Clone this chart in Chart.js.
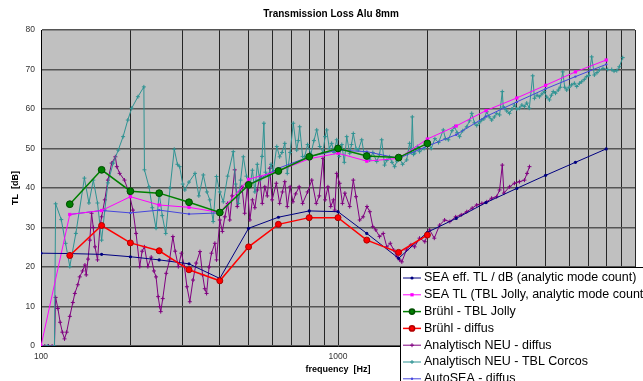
<!DOCTYPE html>
<html>
<head>
<meta charset="utf-8">
<script src="https://cdn.jsdelivr.net/npm/chart.js@4.4.1/dist/chart.umd.min.js"></script>
<style>
  html, body { margin: 0; padding: 0; background: #fff; }
  #wrap { width: 643px; height: 381px; }
</style>
</head>
<body>
<div id="wrap"><canvas id="chart" width="643" height="381"></canvas></div>
<script>
const TITLE = 'Transmission Loss Alu 8mm';
const X_TITLE = 'frequency  [Hz]';
const Y_TITLE = 'TL  [dB]';

// x grid lines (log decades 100..10000) and the labelled ones
const xGridFreq = [100, 200, 300, 400, 500, 600, 700, 800, 900,
  1000, 2000, 3000, 4000, 5000, 6000, 7000, 8000, 9000, 10000];
const xTickLabels = [100, 1000];

// third-octave bands
const seaFreq = [100, 125, 160, 200, 250, 315, 400, 500, 630, 800, 1000,
  1250, 1600, 2000, 2500, 3150, 4000, 5000, 6300, 8000];
const bruehlFreq = [125, 160, 200, 250, 315, 400, 500, 630, 800, 1000, 1250, 1600, 2000];
const autoFreq = [125, 160, 200, 250, 315, 400, 500, 630, 800, 1000,
  1250, 1600, 2000, 2500, 3150, 4000, 5000, 6300, 8000];

const seaEffTL = [23.5, 23.4, 23.2, 22.6, 21.8, 20.8, 17.1, 29.8, 32.6, 34.2, 34.0,
  28.5, 22.2, 28.8, 32.3, 36.3, 39.9, 43.2, 46.5, 49.9];
const seaJollyTL = [0, 33.3, 34.3, 37.8, 35.7, 35.1, 33.8, 42.2, 44.3, 47.4, 48.8,
  46.8, 47.5, 52.4, 55.7, 59.6, 62.8, 66.0, 69.4, 72.4];
const bruehlJollyTL = [35.9, 44.6, 39.2, 38.7, 36.4, 33.8, 40.8, 44.3, 47.9, 50.0, 48.1, 47.7, 51.3];
const bruehlDiffTL = [22.9, 30.5, 26.1, 24.1, 19.3, 16.5, 25.1, 30.8, 32.5, 32.5, 26.8, 23.7, 28.1];
const autoSeaTL = [33.3, 34.3, 33.7, 34.4, 33.4, 33.7, 40.8, 45.0, 47.9, 49.6,
  49.2, 47.5, 50.6, 53.5, 58.1, 61.8, 65.1, 68.2, 71.3];

// narrow-band curves [frequency, TL]
const analytDiffus = [
  [100,0],[103,0],[106,0],[109,0],[111,0],[112,12.3],[114,9.5],[116,6],[118,3.5],[120,1.8],
  [122,3.5],[125,7.5],[128,11],[130,13.3],[133,15.5],[135,17.5],[138,19],[140.6,20.5],[142,18],
  [144,22],[146,26.8],[148,33.6],[150,30],[152,25.1],[155,21.8],[158,30.2],[160,32.7],[164,37],
  [168,42],[173,46.3],[178,47.9],[180,45.4],[184,43.7],[191,42],[198,38.7],[204,34.4],[209,28.5],
  [215,20.1],[219,24],[223,25.1],[229,20.1],[235,22.5],[240,19],[244,17.5],[248,12.5],[251,10],
  [253,8.7],[257,12],[264,18.4],[271,21.8],[278,27.7],[283,24],[290,20.1],[297,23.5],[304,20.1],
  [310,15],[317,11.2],[325,16.7],[333,21],[343,23.9],[350,18],[356,14.5],[361,13.3],[368,20],
  [375,23.5],[385,26],[390,21.8],[400,31.9],[408,29],[416,32.7],[425,36.1],[432,31.9],[440,38],
  [449,44.6],[458,35.3],[467,39],[475,40.3],[485,33.6],[495,40.3],[505,31.9],[515,37],[525,35],
  [535,39.5],[545,42.9],[556,36.1],[567,40.3],[578,38],[589,45],[600,37],[620,41.2],[636,36.1],
  [650,39],[662,41.6],[675,35.3],[690,40.3],[705,36.5],[720,38.5],[740,40.3],[760,36.1],[790,39],
  [816,42],[845,36.1],[865,38],[890,47.5],[905,37],[925,40.3],[945,35.3],[965,37],[975,34.4],
  [990,43.7],[1013,41.2],[1035,36.1],[1055,38.7],[1095,35.3],[1126,42],[1150,37.8],[1183,31.9],
  [1215,32.7],[1252,35.3],[1280,34],[1310,30.2],[1340,29.4],[1380,27.7],[1420,28.5],[1460,25.1],
  [1500,26],[1540,24.3],[1580,22.6],[1612,21.8],[1640,21.3],[1700,24.3],[1760,25.6],[1811,25.1],
  [1882,27.3],[1960,26.4],[2034,29.4],[2110,27.3],[2198,30.6],[2285,31.9],[2380,31.5],[2490,32.7],
  [2600,33.2],[2713,34],[2830,34.9],[2931,35.7],[3050,36.1],[3168,36.5],[3290,37.4],[3421,37.8],
  [3500,39.5],[3574,45.8],[3620,38.7],[3779,40.3],[3928,41.2],[4083,41.6],[4244,42],[4330,43.7],
  [4412,45.4]
];
const analytCorcos = [
  [100,0],[105,0],[111,0],[112,36],[117,32],[121,26],[125,20.1],[131,28.5],[140,42.5],[145,36.2],
  [150,42],[155,36.2],[160,26.8],[164,34.4],[168,41.3],[175,46.3],[182,49.6],[189,53],[196,57.2],
  [202,60.2],[212,63.1],[222,65.6],[223,44.6],[231,40.3],[237,35],[244,29.8],[250,38.7],[256,33],
  [263,28.5],[272,40],[281,49.8],[288,46],[293,45.4],[300,41],[305,39.5],[315,41.5],[330,43.7],
  [340,38],[352,43.3],[362,39],[370,37],[380,31.5],[390,42.9],[400,39],[411,36.5],[425,43],
  [444,49.2],[452,41],[462,36.1],[470,42],[480,47.9],[492,43],[505,40.3],[515,44.5],[525,39],
  [535,46],[545,42],[555,48],[563,56.4],[570,44],[583,42.9],[595,46],[605,44],[622,50.5],
  [636,47.9],[648,49],[662,51.3],[675,43.7],[690,49],[707,56.4],[726,49.6],[735,52],[743,55.5],
  [760,48],[772,47.9],[790,51],[810,48.5],[830,52],[848,54.7],[868,50.5],[890,49],[905,53],
  [916,54.7],[935,50],[952,51.3],[970,49],[990,52.2],[1010,48],[1030,51],[1050,46.5],[1070,53],
  [1095,48.8],[1110,51],[1126,53.8],[1150,50],[1170,49.6],[1202,52.2],[1229,47.9],[1250,48.5],
  [1278,47.1],[1310,49],[1350,46.7],[1380,48.5],[1403,52.2],[1435,45.8],[1460,47],[1492,47.9],
  [1520,46.5],[1551,45.4],[1580,46.8],[1612,47.5],[1650,46],[1703,47.1],[1742,51.3],[1765,49],
  [1779,58],[1795,48.5],[1811,48.8],[1850,50.5],[1882,49.2],[1950,50],[2014,51.3],[2060,50],
  [2120,52.5],[2180,51.5],[2262,54.7],[2300,52.5],[2352,52.2],[2420,54.5],[2468,55.5],[2520,54],
  [2566,53],[2630,54.5],[2713,55.5],[2772,57],[2820,58.9],[2880,56.5],[2931,55.8],[2990,56.5],
  [3047,57.2],[3100,57.5],[3168,59.3],[3230,58],[3292,57.2],[3360,58],[3421,58.9],[3500,58.5],
  [3574,64.4],[3600,60.5],[3636,60.2],[3700,59.5],[3779,58.9],[3850,60],[3928,61],[4000,60],
  [4083,60.2],[4160,61],[4244,60.6],[4320,61.5],[4407,60.2],[4525,68.4],[4586,62.7],[4680,63.5],
  [4767,63.1],[4860,63.8],[4955,64.4],[5050,63],[5151,62.3],[5230,63.5],[5307,64.4],[5400,64],
  [5517,64.8],[5600,65.5],[5710,69.4],[5800,65.5],[5890,64.8],[6000,65.5],[6120,66.1],[6250,66.5],
  [6364,65.7],[6500,66.5],[6613,66.9],[6750,67.5],[6876,68.2],[7000,68.5],[7148,73.2],[7297,68.6],
  [7450,69.2],[7585,69.9],[7800,70.3],[8092,70],[8350,70],[8500,69.6],[8681,69.7],[8856,70.7],
  [9093,73]
];

const FONT = '"Liberation Sans", Arial, sans-serif';

const zip = (xs, ys) => xs.map((x, i) => ({ x, y: ys[i] }));
const pairs = arr => arr.map(([x, y]) => ({ x, y }));

const datasets = [
  {
    label: 'SEA eff. TL / dB (analytic mode count)',
    data: zip(seaFreq, seaEffTL),
    borderColor: '#000080', backgroundColor: '#000080', borderWidth: 1,
    pointStyle: 'circle', pointRadius: 1.6, pointBorderWidth: 0, order: 3
  },
  {
    label: 'SEA TL (TBL Jolly, analytic mode count)',
    data: zip(seaFreq, seaJollyTL),
    borderColor: '#ff00ff', backgroundColor: '#ff00ff', borderWidth: 1,
    pointStyle: 'rect', pointRadius: 2.3, pointBorderWidth: 0, order: 3
  },
  {
    label: 'Brühl - TBL Jolly',
    data: zip(bruehlFreq, bruehlJollyTL),
    borderColor: '#008000', backgroundColor: '#008000', borderWidth: 1.5,
    pointStyle: 'circle', pointRadius: 3.4, pointBorderWidth: 1, pointBorderColor: '#004d00', order: 1
  },
  {
    label: 'Brühl - diffus',
    data: zip(bruehlFreq, bruehlDiffTL),
    borderColor: '#ff0000', backgroundColor: '#ff0000', borderWidth: 1.5,
    pointStyle: 'circle', pointRadius: 3, pointBorderWidth: 1, pointBorderColor: '#b00000', order: 1
  },
  {
    label: 'Analytisch NEU - diffus',
    data: pairs(analytDiffus),
    borderColor: '#800080', backgroundColor: '#800080', borderWidth: 1,
    pointStyle: 'cross', pointRadius: 2, pointBorderWidth: 1, order: 6
  },
  {
    label: 'Analytisch NEU - TBL Corcos',
    data: pairs(analytCorcos),
    borderColor: '#2f9393', backgroundColor: '#2f9393', borderWidth: 1,
    pointStyle: 'cross', pointRadius: 2, pointBorderWidth: 1, order: 5
  },
  {
    label: 'AutoSEA - diffus',
    data: zip(autoFreq, autoSeaTL),
    borderColor: '#4646dc', backgroundColor: '#4646dc', borderWidth: 1,
    pointStyle: 'circle', pointRadius: 1.2, pointBorderWidth: 0, order: 4
  }
];

const framePlugin = {
  id: 'frame',
  beforeDraw(chart) {
    const { ctx, chartArea: a } = chart;
    ctx.save();
    ctx.fillStyle = '#fff';
    ctx.fillRect(0, 0, chart.width, chart.height);
    ctx.fillStyle = '#c0c0c0';
    ctx.fillRect(a.left, a.top, a.right - a.left, a.bottom - a.top);
    ctx.restore();
  },
  afterDraw(chart) {
    const ctx = chart.ctx;
    ctx.save();
    ctx.fillStyle = '#000';
    ctx.textAlign = 'center';
    ctx.textBaseline = 'middle';
    ctx.font = 'bold 10px ' + FONT;
    ctx.fillText(TITLE, 331, 14);
    ctx.font = 'bold 9px ' + FONT;
    ctx.fillText(X_TITLE, 338, 370);
    ctx.save();
    ctx.translate(16, 188);
    ctx.rotate(-Math.PI / 2);
    ctx.fillText(Y_TITLE, 0, 0);
    ctx.restore();

    // legend box, cut by the canvas edge like the original
    ctx.fillStyle = '#fff';
    ctx.fillRect(400, 267, 260, 130);
    ctx.strokeStyle = '#000';
    ctx.lineWidth = 1;
    ctx.strokeRect(400.5, 267.5, 260, 130);
    ctx.textAlign = 'left';
    ctx.font = '12.5px ' + FONT;
    chart.data.datasets.forEach((ds, i) => {
      const y = 278 + 16.8 * i;
      ctx.strokeStyle = ds.borderColor;
      ctx.lineWidth = ds.borderWidth;
      ctx.beginPath();
      ctx.moveTo(403, y);
      ctx.lineTo(421, y);
      ctx.stroke();
      ctx.fillStyle = ds.backgroundColor;
      ctx.strokeStyle = ds.pointBorderColor || ds.borderColor;
      Chart.helpers.drawPoint(ctx, {
        pointStyle: ds.pointStyle,
        radius: Math.min(ds.pointRadius, 2.6),
        rotation: 0,
        borderWidth: ds.pointBorderWidth
      }, 412, y);
      ctx.fillStyle = '#000';
      ctx.fillText(ds.label, 424, y);
    });
    ctx.restore();
  }
};

new Chart(document.getElementById('chart'), {
  type: 'line',
  data: { datasets },
  options: {
    responsive: false,
    animation: false,
    layout: { padding: { top: 30, right: 8, left: 0, bottom: 0 } },
    elements: { line: { tension: 0 } },
    plugins: { legend: { display: false }, tooltip: { enabled: false }, title: { display: false } },
    scales: {
      x: {
        type: 'logarithmic',
        min: 100,
        max: 10000,
        afterBuildTicks: s => { s.ticks = xGridFreq.map(v => ({ value: v })); },
        afterFit: s => { s.height = 35; },
        grid: { color: '#262626', lineWidth: 1, drawTicks: false },
        border: { color: '#000' },
        ticks: {
          autoSkip: false, maxRotation: 0, padding: 6, color: '#333',
          font: { family: FONT, size: 8.5 },
          callback: v => xTickLabels.includes(v) ? String(v) : ''
        }
      },
      y: {
        min: 0,
        max: 80,
        afterFit: s => { s.width = 41; },
        grid: { color: '#555', lineWidth: 1.5, drawTicks: false },
        border: { color: '#000' },
        ticks: { stepSize: 10, padding: 6, color: '#333', font: { family: FONT, size: 8.5 } }
      }
    }
  },
  plugins: [framePlugin]
});
</script>
</body>
</html>
